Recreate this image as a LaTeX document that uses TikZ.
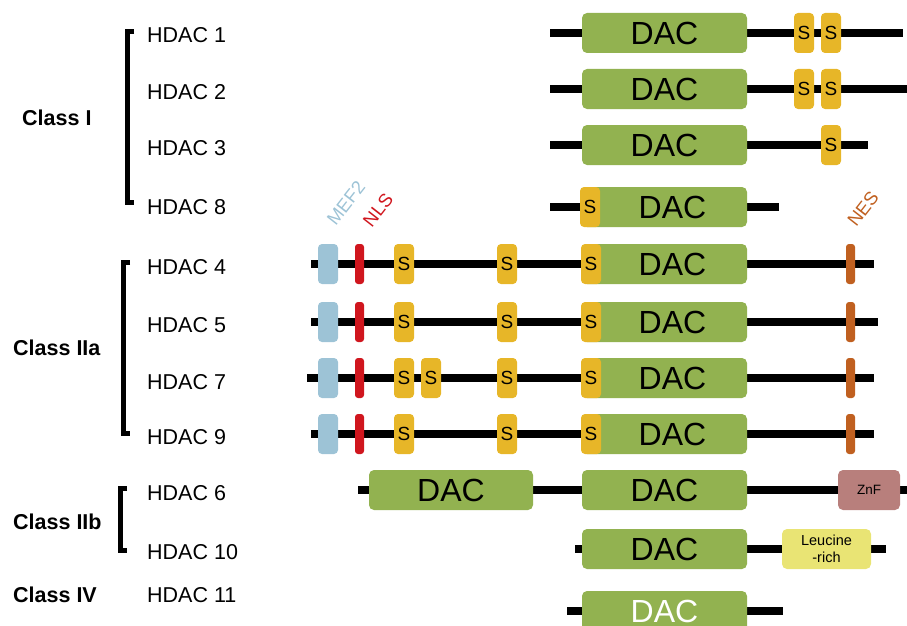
\documentclass[tikz,border=0pt]{standalone}
\usepackage{fontspec}
\setmainfont{Liberation Sans}
\definecolor{dacgreen}{RGB}{146,178,80}
\definecolor{syellow}{RGB}{231,182,40}
\definecolor{mefblue}{RGB}{157,195,214}
\definecolor{nlsred}{RGB}{208,22,30}
\definecolor{nesorange}{RGB}{192,96,32}
\definecolor{znfpink}{RGB}{184,127,124}
\definecolor{leuyellow}{RGB}{233,228,116}
\tikzset{
  prot/.style={line width=8pt, black},
  brk/.style={line width=5pt, black, line join=miter},
  dac/.style={fill=dacgreen, rounded corners=5pt, minimum width=165pt, minimum height=40pt, inner sep=0pt, font=\fontsize{32}{32}\selectfont},
  sbox/.style={fill=syellow, rounded corners=4pt, minimum width=20pt, minimum height=40pt, inner sep=0pt, font=\fontsize{19}{19}\selectfont},
  mefbox/.style={fill=mefblue, rounded corners=4pt, minimum width=20pt, minimum height=40pt, inner sep=0pt},
  nlsbar/.style={fill=nlsred, rounded corners=3pt, minimum width=9pt, minimum height=40pt, inner sep=0pt},
  nesbar/.style={fill=nesorange, rounded corners=3pt, minimum width=9pt, minimum height=40pt, inner sep=0pt},
  hlab/.style={anchor=west, inner sep=0pt, font=\fontsize{21.5}{21.5}\selectfont},
  clab/.style={anchor=west, inner sep=0pt, font=\fontsize{21.5}{21.5}\selectfont\bfseries},
  motif/.style={rotate=52, inner sep=0pt, font=\fontsize{18.5}{18.5}\selectfont},
}
\begin{document}
\begin{tikzpicture}[x=1pt,y=-1pt]
\useasboundingbox (0,0) rectangle (907,626);
\clip (0,0) rectangle (907,626);

% ---------- left labels ----------
\node[clab] (c1) at (22,118) {Class I};
\node[clab] (c2a) at (13,348) {Class IIa};
\node[clab] (c2b) at (13,522) {Class IIb};
\node[clab] (c4) at (13,595) {Class IV};

\node[hlab] (l1) at (147,35) {HDAC 1};
\node[hlab] (l2) at (147,92) {HDAC 2};
\node[hlab] (l3) at (147,148) {HDAC 3};
\node[hlab] (l8) at (147,207) {HDAC 8};
\node[hlab] (l4) at (147,267) {HDAC 4};
\node[hlab] (l5) at (147,325) {HDAC 5};
\node[hlab] (l7) at (147,382) {HDAC 7};
\node[hlab] (l9) at (147,437) {HDAC 9};
\node[hlab] (l6) at (147,493) {HDAC 6};
\node[hlab] (l10) at (147,552) {HDAC 10};
\node[hlab] (l11) at (147,595) {HDAC 11};

\draw[brk] (134,32) -- (127,32) -- (127,202) -- (134,202);
\draw[brk] (130,262) -- (123,262) -- (123,433) -- (130,433);
\draw[brk] (127,488) -- (120,488) -- (120,550) -- (127,550);

% ---------- motif labels ----------
\node[motif, text=mefblue] (tmef) at (346,203) {MEF2};
\node[motif, text=nlsred] (tnls) at (378,210) {NLS};
\node[motif, text=nesorange] (tnes) at (863,209) {NES};

% ---------- HDAC 1 ----------
\draw[prot] (550,33) -- (903,33);
\node[dac] (d1) at (664.5,33) {DAC};
\node[sbox] (s1a) at (804,33) {S};
\node[sbox] (s1b) at (831,33) {S};

% ---------- HDAC 2 ----------
\draw[prot] (550,89) -- (907,89);
\node[dac] (d2) at (664.5,89) {DAC};
\node[sbox] (s2a) at (804,89) {S};
\node[sbox] (s2b) at (831,89) {S};

% ---------- HDAC 3 ----------
\draw[prot] (550,145) -- (868,145);
\node[dac] (d3) at (664.5,145) {DAC};
\node[sbox] (s3a) at (831,145) {S};

% ---------- HDAC 8 ----------
\draw[prot] (550,207) -- (779,207);
\node[dac] (d8) at (664.5,207) {\hspace*{16pt}DAC};
\node[sbox] (s8a) at (590,207) {S};

% ---------- HDAC 4 ----------
\draw[prot] (311,264) -- (874,264);
\node[mefbox] (m4) at (328,264) {};
\node[nlsbar] (n4) at (359.5,264) {};
\node[sbox] (s4a) at (404,264) {S};
\node[sbox] (s4b) at (507,264) {S};
\node[dac] (d4) at (664.5,264) {\hspace*{16pt}DAC};
\node[sbox] (s4c) at (591,264) {S};
\node[nesbar] (e4) at (850.5,264) {};

% ---------- HDAC 5 ----------
\draw[prot] (311,322) -- (878,322);
\node[mefbox] (m5) at (328,322) {};
\node[nlsbar] (n5) at (359.5,322) {};
\node[sbox] (s5a) at (404,322) {S};
\node[sbox] (s5b) at (507,322) {S};
\node[dac] (d5) at (664.5,322) {\hspace*{16pt}DAC};
\node[sbox] (s5c) at (591,322) {S};
\node[nesbar] (e5) at (850.5,322) {};

% ---------- HDAC 7 ----------
\draw[prot] (307,378) -- (874,378);
\node[mefbox] (m7) at (328,378) {};
\node[nlsbar] (n7) at (359.5,378) {};
\node[sbox] (s7a) at (404,378) {S};
\node[sbox] (s7b) at (431,378) {S};
\node[sbox] (s7c) at (507,378) {S};
\node[dac] (d7) at (664.5,378) {\hspace*{16pt}DAC};
\node[sbox] (s7d) at (591,378) {S};
\node[nesbar] (e7) at (850.5,378) {};

% ---------- HDAC 9 ----------
\draw[prot] (311,434) -- (874,434);
\node[mefbox] (m9) at (328,434) {};
\node[nlsbar] (n9) at (359.5,434) {};
\node[sbox] (s9a) at (404,434) {S};
\node[sbox] (s9b) at (507,434) {S};
\node[dac] (d9) at (664.5,434) {\hspace*{16pt}DAC};
\node[sbox] (s9c) at (591,434) {S};
\node[nesbar] (e9) at (850.5,434) {};

% ---------- HDAC 6 ----------
\draw[prot] (358,490) -- (907,490);
\node[dac, minimum width=164pt] (d6a) at (451,490) {DAC};
\node[dac] (d6b) at (664.5,490) {DAC};
\node[fill=znfpink, rounded corners=5pt, minimum width=62pt, minimum height=40pt, inner sep=0pt, font=\fontsize{13.5}{13.5}\selectfont] (z6) at (869,490) {ZnF};

% ---------- HDAC 10 ----------
\draw[prot] (575,549) -- (886,549);
\node[dac] (d10) at (664.5,549) {DAC};
\node[fill=leuyellow, rounded corners=5pt, minimum width=89pt, minimum height=40pt, inner sep=0pt, align=center, font=\fontsize{14.5}{17}\selectfont] (lr10) at (826.5,549) {Leucine\\-rich};

% ---------- HDAC 11 ----------
\draw[prot] (567,611) -- (783,611);
\node[dac, text=white] (d11) at (664.5,611) {DAC};
\end{tikzpicture}
\end{document}
